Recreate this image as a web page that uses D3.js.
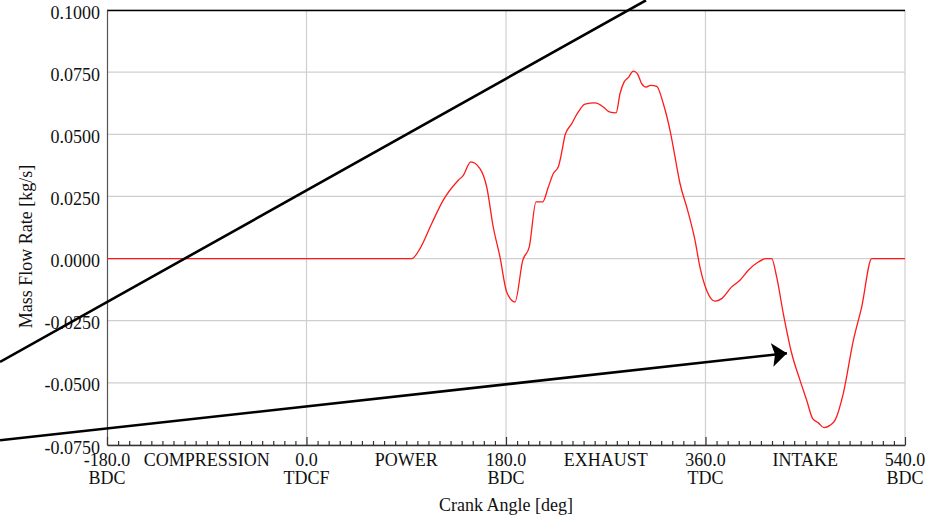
<!DOCTYPE html>
<html>
<head>
<meta charset="utf-8">
<script src="https://cdn.jsdelivr.net/npm/d3@7/dist/d3.min.js"></script>
<style>
  html, body { margin: 0; padding: 0; background: #fff; }
  svg { display: block; overflow: hidden; }
  text { font-family: "Liberation Serif", "Times New Roman", serif; fill: #111; }
</style>
</head>
<body>
<svg id="chart" width="938" height="516"></svg>
<script>
// ---- Data ----
const crankAngle = [-180, 94.9, 102.4, 113.0, 123.4, 137.0, 141.5, 148.2, 156.5, 162.6, 168.5, 174.6,
  180.6, 188.1, 195.1, 201.0, 207.1, 213.1, 218.2, 222.7, 227.2, 232.3, 233.2, 239.3, 245.2, 251.3,
  260.3, 267.8, 273.2, 279.3, 282.9, 286.5, 290.3, 294.9, 298.5, 302.4, 306.3, 310.6, 316.0, 321.9,
  328.6, 332.5, 337.0, 343.9, 350.5, 355.0, 361.1, 368.6, 374.6, 383.6, 391.1, 398.6, 407.6, 414.6,
  419.7, 424.2, 430.2, 437.8, 445.3, 451.3, 456.7, 461.8, 466.9, 472.3, 476.8, 484.3, 493.4, 500.9,
  510.0, 540];
const massFlow = [0, 0, 0.0040, 0.0141, 0.0235, 0.0315, 0.0335, 0.0389, 0.0362, 0.0288, 0.0127, 0.0006,
  -0.0134, -0.0175, -0.0007, 0.0047, 0.0228, 0.0228, 0.0288, 0.0342, 0.0369, 0.0476, 0.0496, 0.0543, 0.0590, 0.0621,
  0.0626, 0.0610, 0.0590, 0.0586, 0.0664, 0.0710, 0.0728, 0.0754, 0.0744, 0.0704, 0.0690, 0.0697, 0.0693, 0.0624,
  0.0503, 0.0409, 0.0302, 0.0194, 0.0074, -0.0034, -0.0128, -0.0171, -0.0161, -0.0114, -0.0087, -0.0047, -0.0014, 0.0,
  0.0, -0.0074, -0.0221, -0.0382, -0.0490, -0.0570, -0.0644, -0.0661, -0.0680, -0.0671, -0.0651, -0.0543, -0.0329, -0.0195,
  0.0, 0.0];

const yTicks = [-0.075, -0.05, -0.025, 0, 0.025, 0.05, 0.075, 0.1];
const xMajorTicks = [-180, 0, 180, 360, 540];
const xTickLabels = ["-180.0", "0.0", "180.0", "360.0", "540.0"];
const xTickSubLabels = ["BDC", "TDCF", "BDC", "TDC", "BDC"];
const strokeNames = ["COMPRESSION", "POWER", "EXHAUST", "INTAKE"];
const strokeAngles = [-90, 90, 270, 450];
const xTitle = "Crank Angle [deg]";
const yTitle = "Mass Flow Rate [kg/s]";

// annotation lines (in data units: crank angle, mass flow)
const annoStart = [[-276.5, -0.0416], [-276.5, -0.0731]];
const annoEnd = [[306.3, 0.1039], [433.5, -0.0381]];
const annoArrow = [false, true];

(function () {
// ---- Layout ----
const svg = d3.select("#chart");
const pLeft = 107, pRight = 905, pTop = 10, pBottom = 445;
const x = d3.scaleLinear().domain([-180, 540]).range([pLeft, pRight]);
const y = d3.scaleLinear().domain([-0.075, 0.1]).range([pBottom, pTop]);

// gridlines
const grid = svg.append("g");
grid.selectAll("line.h").data(yTicks).join("line")
  .attr("x1", pLeft).attr("x2", pRight)
  .attr("y1", d => y(d)).attr("y2", d => y(d))
  .attr("stroke", "#cfcfcf").attr("stroke-width", 1.2);
grid.selectAll("line.v").data(xMajorTicks.slice(1)).join("line")
  .attr("x1", d => x(d)).attr("x2", d => x(d))
  .attr("y1", pTop).attr("y2", pBottom)
  .attr("stroke", "#cfcfcf").attr("stroke-width", 1.2);

// top border
svg.append("line").attr("x1", pLeft).attr("x2", pRight).attr("y1", pTop + 0.5).attr("y2", pTop + 0.5)
  .attr("stroke", "#000").attr("stroke-width", 1.5);

// Y axis
const yAxis = d3.axisLeft(y).tickValues(yTicks).tickSize(0).tickPadding(7)
  .tickFormat(d => d.toFixed(4));
const gy = svg.append("g").attr("transform", `translate(${pLeft},0)`).call(yAxis);
gy.select(".domain").attr("stroke", "#555").attr("stroke-width", 1.2);
gy.selectAll("text").attr("font-size", 18).attr("dy", "0.45em")
  .attr("font-family", "Liberation Serif, Times New Roman, serif").attr("fill", "#111");

// X axis with minor ticks upward
const minorTicks = d3.range(-180, 541, 10);
const xAxis = d3.axisBottom(x).tickValues(minorTicks).tickSizeInner(-4).tickSizeOuter(0).tickFormat("");
const gx = svg.append("g").attr("transform", `translate(0,${pBottom})`).call(xAxis);
gx.select(".domain").attr("stroke", "#333").attr("stroke-width", 1.5);
gx.selectAll(".tick line").attr("stroke", "#333").attr("stroke-width", 1.2)
  .attr("y2", d => xMajorTicks.includes(d) ? -8 : -4);

// X tick labels
const xl = svg.append("g").attr("font-size", 18).attr("text-anchor", "middle");
xl.selectAll("text.l1").data(xMajorTicks).join("text").attr("class", "l1")
  .attr("x", d => x(d)).attr("y", pBottom + 21).text((d, i) => xTickLabels[i]);
xl.selectAll("text.l2").data(xMajorTicks).join("text").attr("class", "l2")
  .attr("x", d => x(d)).attr("y", pBottom + 39).text((d, i) => xTickSubLabels[i]);
xl.selectAll("text.s").data(strokeAngles).join("text").attr("class", "s")
  .attr("x", d => x(d)).attr("y", pBottom + 21).text((d, i) => strokeNames[i]);

// titles
svg.append("text").attr("x", (pLeft + pRight) / 2).attr("y", 511).attr("text-anchor", "middle")
  .attr("font-size", 18).text(xTitle);
svg.append("text").attr("transform", `translate(31.5,246.5) rotate(-90)`).attr("text-anchor", "middle")
  .attr("font-size", 18).text(yTitle);

// data curve
const pts = crankAngle.map((a, i) => [a, massFlow[i]]);
svg.append("path").datum(pts)
  .attr("fill", "none").attr("stroke", "#ff1a1a").attr("stroke-width", 1.3)
  .attr("d", d3.line().x(d => x(d[0])).y(d => y(d[1])).curve(d3.curveMonotoneX));

// annotations
const defs = svg.append("defs");
defs.append("marker").attr("id", "arrow").attr("markerUnits", "userSpaceOnUse")
  .attr("markerWidth", 20).attr("markerHeight", 28).attr("viewBox", "0 -14 20 28")
  .attr("refX", 15).attr("refY", 0).attr("orient", "auto")
  .append("path").attr("d", "M0,-12L15,0L0,12L3,0Z").attr("fill", "#000");

svg.append("g").selectAll("line").data(annoStart).join("line")
  .attr("x1", d => x(d[0])).attr("y1", d => y(d[1]))
  .attr("x2", (d, i) => x(annoEnd[i][0])).attr("y2", (d, i) => y(annoEnd[i][1]))
  .attr("stroke", "#000").attr("stroke-width", 2.6)
  .attr("marker-end", (d, i) => annoArrow[i] ? "url(#arrow)" : null);
})();
</script>
</body>
</html>
